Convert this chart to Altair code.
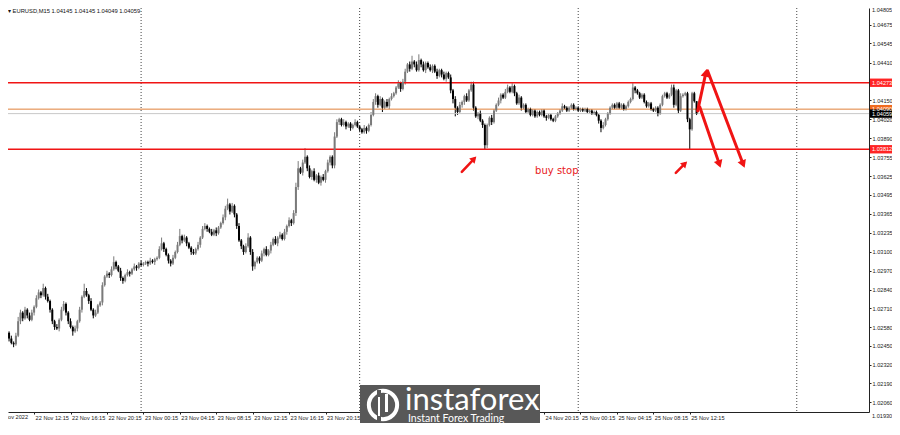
import altair as alt
import pandas as pd

# ---------------- data ----------------
first_bar_time = "2022-11-22 09:30"   # M15 bars
first_open = 1.0254
closes = [
    1.0250, 1.0247, 1.0246, 1.0252, 1.0262, 1.0268, 1.0264, 1.0270, 1.0266, 1.0263,
    1.0268, 1.0272, 1.0278, 1.0282, 1.0280, 1.0285, 1.0279, 1.0276, 1.0270, 1.0262,
    1.0258, 1.0257, 1.0263, 1.0270, 1.0274, 1.0268, 1.0262, 1.0258, 1.0255, 1.0257,
    1.0262, 1.0270, 1.0279, 1.0283, 1.0280, 1.0276, 1.0270, 1.0266, 1.0268, 1.0273,
    1.0275, 1.0287, 1.0293, 1.0295, 1.0294, 1.0298, 1.0303, 1.0300, 1.0297, 1.0292,
    1.0290, 1.0294, 1.0296, 1.0295, 1.0298, 1.0300, 1.0299, 1.0302, 1.0301, 1.0302,
    1.0303, 1.0302, 1.0304, 1.0303, 1.0305, 1.0306, 1.0312, 1.0316, 1.0312, 1.0308,
    1.0304, 1.0302, 1.0306, 1.0310, 1.0315, 1.0321, 1.0318, 1.0320, 1.0316, 1.0313,
    1.0310, 1.0309, 1.0312, 1.0315, 1.0320, 1.0326, 1.0328, 1.0326, 1.0324, 1.0322,
    1.0325, 1.0323, 1.0327, 1.0330, 1.0334, 1.0340, 1.0343, 1.0338, 1.0342, 1.0336,
    1.0328, 1.0318, 1.0314, 1.0310, 1.0314, 1.0320, 1.0310, 1.0300, 1.0303, 1.0306,
    1.0304, 1.0309, 1.0312, 1.0308, 1.0311, 1.0315, 1.0319, 1.0316, 1.0320, 1.0322,
    1.0319, 1.0324, 1.0328, 1.0332, 1.0330, 1.0337, 1.0355, 1.0368, 1.0365, 1.0372,
    1.0376, 1.0368, 1.0362, 1.0366, 1.0360, 1.0363, 1.0358, 1.0362, 1.0360, 1.0366,
    1.0372, 1.0376, 1.0370, 1.0390, 1.0400, 1.0402, 1.0398, 1.0400, 1.0397, 1.0399,
    1.0396, 1.0398, 1.0400, 1.0397, 1.0395, 1.0393, 1.0396, 1.0394, 1.0398, 1.0405,
    1.0414, 1.0418, 1.0412, 1.0416, 1.0410, 1.0414, 1.0411, 1.0416, 1.0418, 1.0420,
    1.0424, 1.0427, 1.0423, 1.0428, 1.0435, 1.0440, 1.0437, 1.0442, 1.0440, 1.0436,
    1.0443, 1.0440, 1.0436, 1.0441, 1.0438, 1.0436, 1.0439, 1.0435, 1.0432, 1.0436,
    1.0433, 1.0430, 1.0434, 1.0431, 1.0422, 1.0416, 1.0410, 1.0407, 1.0412, 1.0414,
    1.0418, 1.0415, 1.0422, 1.0426, 1.0410, 1.0404, 1.0406, 1.0401, 1.0398, 1.0384,
    1.0398, 1.0403, 1.0400, 1.0408, 1.0412, 1.0415, 1.0419, 1.0417, 1.0421, 1.0424,
    1.0421, 1.0425, 1.0420, 1.0413, 1.0417, 1.0410, 1.0412, 1.0407, 1.0409, 1.0405,
    1.0408, 1.0404, 1.0407, 1.0405, 1.0408, 1.0404, 1.0403, 1.0405, 1.0402, 1.0401,
    1.0404, 1.0406, 1.0408, 1.0411, 1.0410, 1.0408, 1.0410, 1.0412, 1.0409, 1.0410,
    1.0408, 1.0409, 1.0408, 1.0409, 1.0407, 1.0408, 1.0406, 1.0407, 1.0405, 1.0401,
    1.0396, 1.0398, 1.0402, 1.0406, 1.0410, 1.0412, 1.0410, 1.0413, 1.0410, 1.0412,
    1.0409, 1.0411, 1.0414, 1.0416, 1.0424, 1.0422, 1.0420, 1.0417, 1.0419, 1.0414,
    1.0411, 1.0413, 1.0409, 1.0408, 1.0410, 1.0406, 1.0412, 1.0418, 1.0420, 1.0417,
    1.0419, 1.0424, 1.0412, 1.0422, 1.0408, 1.0418, 1.0419, 1.0420, 1.0402, 1.0395,
    1.0420, 1.04145, 1.04059,
]
# upper / lower shadow length of every candle, in pips
wick_hi = [
    1, 2, 1, 2, 3, 2, 1, 2, 1, 2,   2, 1, 2, 2, 1, 3, 1, 2, 1, 1,
    1, 2, 1, 2, 2, 1, 1, 2, 1, 2,   1, 2, 1, 5, 2, 1, 2, 1, 2, 1,
    1, 2, 1, 2, 1, 2, 4, 1, 1, 2,   1, 1, 2, 1, 1, 2, 1, 1, 2, 1,
    1, 1, 2, 1, 1, 1, 2, 4, 1, 1,   1, 1, 2, 1, 2, 5, 1, 2, 1, 1,
    1, 2, 1, 2, 1, 2, 2, 1, 1, 2,   1, 2, 1, 1, 2, 2, 4, 1, 2, 1,
    1, 2, 1, 1, 2, 3, 1, 2, 1, 1,   1, 2, 1, 2, 1, 2, 1, 2, 1, 2,
    1, 2, 1, 2, 1, 2, 3, 5, 1, 2,   6, 1, 2, 1, 2, 1, 2, 1, 2, 1,
    2, 1, 1, 3, 2, 1, 1, 2, 1, 1,   1, 1, 2, 1, 1, 1, 2, 1, 1, 2,
    2, 2, 1, 2, 1, 1, 2, 1, 2, 1,   1, 2, 1, 2, 2, 1, 2, 4, 1, 2,
    4, 1, 2, 1, 1, 2, 1, 1, 2, 1,   1, 2, 1, 1, 2, 1, 2, 1, 2, 1,
    1, 2, 1, 2, 2, 1, 1, 2, 1, 1,   1, 1, 2, 1, 1, 2, 1, 1, 2, 2,
    1, 2, 1, 1, 2, 1, 1, 1, 1, 1,   1, 1, 1, 1, 1, 1, 1, 1, 1, 1,
    1, 1, 1, 2, 1, 1, 1, 1, 1, 1,   1, 1, 1, 1, 1, 1, 1, 1, 1, 1,
    1, 2, 1, 1, 1, 1, 1, 1, 1, 1,   1, 1, 1, 1, 3, 1, 1, 1, 1, 1,
    1, 1, 1, 1, 1, 1, 1, 1, 1, 1,   1, 2, 2, 1, 1, 2, 1, 1, 1, 1,
    1, 1, 0,
]
wick_lo = [
    2, 1, 2, 1, 1, 2, 2, 1, 2, 1,   1, 2, 1, 1, 2, 1, 2, 1, 2, 2,
    2, 1, 2, 1, 1, 2, 2, 1, 3, 1,   2, 1, 2, 1, 1, 2, 1, 2, 1, 1,
    1, 2, 1, 1, 2, 1, 1, 2, 1, 2,   2, 1, 1, 2, 1, 1, 2, 1, 1, 1,
    1, 2, 1, 1, 2, 1, 1, 1, 2, 1,   2, 2, 1, 1, 1, 1, 2, 1, 2, 1,
    2, 1, 1, 1, 2, 1, 1, 2, 1, 1,   1, 2, 1, 1, 1, 2, 1, 2, 1, 2,
    2, 1, 2, 2, 1, 1, 2, 3, 2, 1,   2, 1, 2, 1, 1, 2, 1, 1, 2, 1,
    1, 1, 2, 1, 2, 1, 2, 2, 1, 2,   1, 2, 1, 2, 1, 2, 1, 2, 1, 2,
    1, 2, 2, 2, 1, 2, 1, 1, 2, 1,   2, 1, 1, 1, 2, 1, 1, 2, 1, 1,
    1, 2, 2, 1, 3, 1, 1, 2, 1, 1,   1, 1, 2, 1, 2, 1, 2, 1, 2, 1,
    1, 2, 1, 2, 1, 1, 2, 1, 2, 1,   2, 1, 2, 1, 2, 3, 6, 2, 1, 2,
    2, 1, 1, 1, 2, 1, 2, 1, 2, 3,   2, 1, 2, 1, 1, 1, 2, 1, 1, 1,
    1, 1, 2, 1, 1, 2, 1, 1, 1, 1,   1, 1, 1, 1, 1, 1, 2, 1, 1, 1,
    1, 1, 1, 1, 1, 1, 1, 1, 1, 1,   1, 1, 1, 1, 1, 1, 1, 1, 1, 2,
    3, 1, 1, 1, 1, 1, 1, 1, 1, 1,   1, 1, 1, 1, 1, 2, 1, 1, 1, 1,
    1, 1, 1, 1, 1, 2, 1, 1, 1, 1,   1, 1, 2, 1, 2, 1, 1, 1, 2, 14,
    1, 1, 1,
]

# horizontal levels (price) and their tags on the price scale
level_price = [1.04273, 1.03812, 1.04090, 1.04059]
level_color = ["#f01414", "#f01414", "#e0803a", "#c8c8c8"]
level_width = [1.6, 1.6, 1.0, 1.0]
tag_price = [1.04273, 1.03812, 1.04090, 1.04059]
tag_color = ["#ff2424", "#ff2424", "#f06a1e", "#000000"]

day_breaks = ["2022-11-23T00:00:00", "2022-11-24T00:00:00",
              "2022-11-25T00:00:00", "2022-11-26T00:00:00"]

price_ticks = [1.04675, 1.04545, 1.04410, 1.04280, 1.04150, 1.04020,
               1.03890, 1.03755, 1.03625, 1.03495, 1.03365, 1.03235, 1.03100,
               1.02970, 1.02840, 1.02710, 1.02580, 1.02450, 1.02320, 1.02190,
               1.02060]
price_top_label = ["1.04805"]       # scale maximum, printed at the very top
price_bottom_label = ["1.01930"]    # scale minimum, printed at the very bottom
# time labels visible below the chart (those hidden by the logo are left out)
time_ticks = ["2022-11-22 12:15", "2022-11-22 16:15", "2022-11-22 20:15",
              "2022-11-23 00:15", "2022-11-23 04:15", "2022-11-23 08:15",
              "2022-11-23 12:15", "2022-11-23 16:15", "2022-11-23 20:15",
              "2022-11-24 20:15", "2022-11-25 00:15", "2022-11-25 04:15",
              "2022-11-25 08:15", "2022-11-25 12:15"]
first_label = ["22 Nov 2022"]
x_domain = ["2022-11-22 09:23", "2022-11-26 07:56"]
y_domain = [1.01991, 1.04791]

# annotation arrows (tail -> head) in time/price
arrow_t0 = ["2022-11-24T11:13:00", "2022-11-25T10:43:00", "2022-11-25T13:07:00",
            "2022-11-25T13:21:00", "2022-11-25T14:13:00"]
arrow_p0 = [1.03655, 1.03648, 1.04078, 1.04105, 1.04355]
arrow_t1 = ["2022-11-24T12:34:00", "2022-11-25T11:43:00", "2022-11-25T14:01:00",
            "2022-11-25T15:30:00", "2022-11-25T18:07:00"]
arrow_p1 = [1.03746, 1.03712, 1.04342, 1.03709, 1.03708]
arrow_angle = [43, 45, 12, 161, 158]
arrow_w = [2.5, 2.5, 3.0, 3.0, 3.0]
arrow_head = [55, 55, 80, 80, 80]

note_text = ["buy stop"]
note_time = ["2022-11-24T21:39:00"]
note_price = [1.03662]

title_text = "\u25be EURUSD,M15  1.04145 1.04145 1.04049 1.04059"

# ---------------- tables ----------------
times = pd.date_range(first_bar_time, periods=len(closes), freq="15min")
opens = [first_open] + closes[:-1]
rows = []
for t, o, c, wh, wl in zip(times, opens, closes, wick_hi, wick_lo):
    rows.append({
        "t": t.strftime("%Y-%m-%dT%H:%M:%S"),
        "o": o, "c": c,
        "h": max(o, c) + wh * 0.0001,
        "l": min(o, c) - wl * 0.0001,
        "dir": "up" if c >= o else "down",
    })
candles = pd.DataFrame(rows)


def dt(s):
    ts = pd.Timestamp(s)
    return alt.DateTime(year=ts.year, month=ts.month, date=ts.day,
                        hours=ts.hour, minutes=ts.minute)


FONT = "Liberation Sans"
RED = "#f01414"
W, H = 861, 404

x_scale = alt.Scale(domain=[dt(x_domain[0]), dt(x_domain[1])], padding=0)
y_scale = alt.Scale(domain=y_domain, zero=False, nice=False, padding=0)

x_axis = alt.Axis(values=[dt(s) for s in time_ticks], title=None, grid=False,
                  format="%d %b %H:%M",
                  labelAlign="left", labelOffset=1, labelPadding=1,
                  labelFont=FONT, labelFontSize=5.6, labelColor="#222",
                  tickSize=2, tickColor="#222", domainColor="#222",
                  labelOverlap=False, labelBound=False, labelFlush=False)
y_axis = alt.Axis(values=price_ticks, orient="right", title=None, grid=False,
                  format=".5f", labelFont=FONT, labelFontSize=5.6,
                  labelColor="#222", labelPadding=1, tickSize=2,
                  tickColor="#222", domainColor="#222", labelOverlap=False)


def X(field):
    return alt.X(field, scale=x_scale, axis=x_axis)


def Y(field):
    return alt.Y(field, scale=y_scale, axis=y_axis)


color_scale = alt.Scale(domain=["up", "down"], range=["#7a7a7a", "#000000"])

wicks = alt.Chart(candles).mark_rule(strokeWidth=1, clip=True).encode(
    x=X("t:T"), y=Y("l:Q"), y2="h:Q",
    color=alt.Color("dir:N", scale=color_scale, legend=None),
)
bodies = alt.Chart(candles).mark_bar(size=2, clip=True).encode(
    x=X("t:T"), y=Y("o:Q"), y2="c:Q",
    color=alt.Color("dir:N", scale=color_scale, legend=None),
)

days = alt.Chart(pd.DataFrame({"t": day_breaks})).mark_rule(
    color="#444", strokeWidth=1, strokeDash=[1, 2]).encode(x=X("t:T"))

levels_df = pd.DataFrame({"p": level_price, "col": level_color, "w": level_width})
levels = alt.Chart(levels_df).mark_rule().encode(
    y=Y("p:Q"),
    color=alt.Color("col:N", scale=None),
    strokeWidth=alt.StrokeWidth("w:Q", scale=None),
)

arrows_df = pd.DataFrame({"t0": arrow_t0, "p0": arrow_p0, "t1": arrow_t1,
                          "p1": arrow_p1, "ang": arrow_angle, "w": arrow_w,
                          "sz": arrow_head})
shafts = alt.Chart(arrows_df).mark_rule(color=RED, strokeCap="round").encode(
    x=X("t0:T"), x2="t1:T", y=Y("p0:Q"), y2="p1:Q",
    strokeWidth=alt.StrokeWidth("w:Q", scale=None),
)
heads = alt.Chart(arrows_df).mark_point(shape="triangle-up", filled=True,
                                        color=RED, opacity=1).encode(
    x=X("t1:T"), y=Y("p1:Q"),
    angle=alt.Angle("ang:Q", scale=None),
    size=alt.Size("sz:Q", scale=None),
)

note = alt.Chart(pd.DataFrame({"txt": note_text, "t": note_time, "p": note_price})).mark_text(
    color="#e8201a", font="DejaVu Sans", fontSize=10, align="center", baseline="middle"
).encode(x=X("t:T"), y=Y("p:Q"), text="txt:N")

tags_df = pd.DataFrame({"p": tag_price, "col": tag_color})
tags = alt.Chart(tags_df).transform_calculate(
    top="datum.p + 0.00029", bot="datum.p - 0.00029",
    lab="format(datum.p, '.5f')",
)
tag_boxes = tags.mark_rect().encode(
    x=alt.value(W + 1), x2=alt.value(W + 24),
    y=Y("top:Q"), y2="bot:Q",
    color=alt.Color("col:N", scale=None),
)
tag_text = tags.mark_text(align="left", baseline="middle", font=FONT,
                          fontSize=5.6, color="white").encode(
    x=alt.value(W + 3), y=Y("p:Q"), text="lab:N")

# scale extremes printed by the terminal at the top / bottom of the price scale
top_lab = alt.Chart(pd.DataFrame({"txt": price_top_label})).mark_text(
    align="left", baseline="top", font=FONT, fontSize=5.6, color="#222"
).encode(x=alt.value(W + 3), y=alt.value(0), text="txt:N")
bot_lab = alt.Chart(pd.DataFrame({"txt": price_bottom_label})).mark_text(
    align="left", baseline="middle", font=FONT, fontSize=5.6, color="#222"
).encode(x=alt.value(W + 3), y=alt.value(H + 4), text="txt:N")

# date label of the first (cut off) tick at the left edge
first_lab = alt.Chart(pd.DataFrame({"txt": first_label})).mark_text(
    align="right", baseline="top", font=FONT, fontSize=5.6, color="#222"
).encode(x=alt.value(20), y=alt.value(H + 3), text="txt:N")

title = alt.Chart(pd.DataFrame({"txt": [title_text]})).mark_text(
    align="left", baseline="middle", font=FONT, fontSize=5.8, color="#111"
).encode(x=alt.value(0), y=alt.value(3), text="txt:N")

# watermark logo
logo_bg = alt.Chart(pd.DataFrame({"a": [0]})).mark_rect(color="#585858").encode(
    x=alt.value(352), x2=alt.value(532), y=alt.value(377), y2=alt.value(420))
logo_ring = alt.Chart(pd.DataFrame({"a": [0]})).mark_point(
    shape="circle", filled=False, color="white", strokeWidth=4, opacity=1
).encode(x=alt.value(375), y=alt.value(397), size=alt.value(800))
logo_bar1 = alt.Chart(pd.DataFrame({"a": [0]})).mark_rect(color="#585858").encode(
    x=alt.value(369), x2=alt.value(373), y=alt.value(382), y2=alt.value(413))
logo_bar2 = alt.Chart(pd.DataFrame({"a": [0]})).mark_rect(color="white").encode(
    x=alt.value(370), x2=alt.value(372), y=alt.value(389), y2=alt.value(408))
logo_bar3 = alt.Chart(pd.DataFrame({"a": [0]})).mark_rect(color="white").encode(
    x=alt.value(377), x2=alt.value(380), y=alt.value(386), y2=alt.value(404))
logo_name = alt.Chart(pd.DataFrame({"txt": ["instaforex"]})).mark_text(
    align="left", baseline="alphabetic", font="Lato", fontSize=31, color="white"
).encode(x=alt.value(397), y=alt.value(402), text="txt:N")
logo_sub = alt.Chart(pd.DataFrame({"txt": ["Instant Forex Trading"]})).mark_text(
    align="left", baseline="alphabetic", font="Lato", fontSize=10.5, color="white"
).encode(x=alt.value(400), y=alt.value(414), text="txt:N")

chart = alt.layer(
    wicks, days, levels, bodies, shafts, heads, note,
    tag_boxes, tag_text, top_lab, bot_lab, first_lab, title,
    logo_bg, logo_ring, logo_bar1, logo_bar2, logo_bar3, logo_name, logo_sub,
).properties(
    width=W, height=H,
    padding={"left": 0, "top": 0, "right": 884 - W, "bottom": 11},
    autosize=alt.AutoSizeParams(type="none"),
    background="white",
).configure_view(strokeWidth=0)

chart.save("out.html", embed_options={"renderer": "svg", "actions": False})
